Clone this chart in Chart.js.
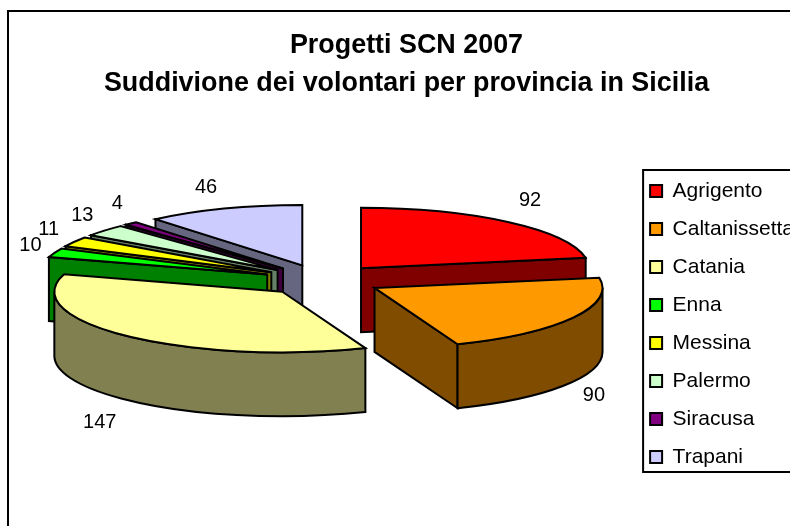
<!DOCTYPE html>
<html><head><meta charset="utf-8">
<style>html,body{margin:0;padding:0;background:#fff;overflow:hidden}canvas{display:block}</style>
<script src="https://cdn.jsdelivr.net/npm/chart.js@4/dist/chart.umd.min.js"></script>
</head><body><div style="width:790px;height:526px"><canvas id="c"></canvas></div>
<script>
const categories = ['Agrigento','Caltanissetta','Catania','Enna','Messina','Palermo','Siracusa','Trapani'];
const values = [92,90,147,10,11,13,4,46];
const topColors = ['#FF0000','#FF9900','#FFFF99','#00FF00','#FFFF00','#CCFFCC','#800080','#CCCCFF'];
const wallColors = ['#800000','#804C00','#808050','#008000','#808000','#668066','#400040','#666680'];
const titleLines = ['Progetti SCN 2007','Suddivione dei volontari per provincia in Sicilia'];
const labelNudges = [[9,-17],[3,11],[-14,18],[-5,-5],[-8,-10],[-7,-11],[0,-16],[-11,-16]];

const FONT = '"Liberation Sans", Arial, sans-serif';
const view = {cx:322.7, cy:280.2, k:0.265, depth:64, radius:228, explode:59.5};

const pie3d = {
  id:'pie3d',
  beforeDraw(chart){
    const c = chart.ctx;
    c.save();
    c.fillStyle='#fff';c.fillRect(0,0,chart.width,chart.height);
    c.strokeStyle='#000';c.lineWidth=2;c.beginPath();
    c.moveTo(8,chart.height);c.lineTo(8,11);c.lineTo(chart.width,11);c.stroke();
    c.restore();
  },
  beforeDatasetsDraw(chart){
    const c = chart.ctx, meta = chart.getDatasetMeta(0);
    const {cx,cy,k,depth} = view;
    const slices = meta.data.map((el,i)=>{
      const p = el.getProps(['x','y','startAngle','endAngle','outerRadius']);
      const mid = (p.startAngle+p.endAngle)/2, off = el.options.offset;
      return {i,mid,start:p.startAngle,end:p.endAngle,r:p.outerRadius,
        ax:cx+off*Math.cos(mid), ay:cy+k*off*Math.sin(mid)};
    });
    const paint = (fill)=>{c.fillStyle=fill;c.fill();c.stroke();};
    c.save();
    c.lineWidth=2;c.strokeStyle='#000';c.lineJoin='miter';
    slices.slice().sort((a,b)=>Math.sin(a.mid)-Math.sin(b.mid)).forEach(s=>{
      const pt=(a,d)=>[s.ax+s.r*Math.cos(a), s.ay+k*s.r*Math.sin(a)+d];
      const face=(a)=>{
        const q=pt(a,0);
        c.beginPath();c.moveTo(s.ax,s.ay);c.lineTo(q[0],q[1]);c.lineTo(q[0],q[1]+depth);
        c.lineTo(s.ax,s.ay+depth);c.closePath();paint(wallColors[s.i]);
      };
      if(Math.cos(s.start)<0) face(s.start);
      if(Math.cos(s.end)>0) face(s.end);
      for(const base of [-2*Math.PI,0,2*Math.PI]){
        const a0=Math.max(s.start,base), a1=Math.min(s.end,base+Math.PI);
        if(a1<=a0) continue;
        c.beginPath();
        c.ellipse(s.ax,s.ay,s.r,k*s.r,0,a0,a1);
        c.ellipse(s.ax,s.ay+depth,s.r,k*s.r,0,a1,a0,true);
        c.closePath();paint(wallColors[s.i]);
      }
      c.beginPath();c.moveTo(s.ax,s.ay);
      c.ellipse(s.ax,s.ay,s.r,k*s.r,0,s.start,s.end);
      c.closePath();paint(topColors[s.i]);
    });
    c.fillStyle='#000';c.font='20px '+FONT;c.textAlign='center';c.textBaseline='middle';
    slices.forEach(s=>{
      const D=s.r+80;
      const front=Math.sin(s.mid)>0?depth:0;
      const x=cx+D*Math.cos(s.mid)+labelNudges[s.i][0];
      const y=cy+k*D*Math.sin(s.mid)+front+labelNudges[s.i][1];
      c.fillText(String(values[s.i]),x,y);
    });
    c.restore();
    return false;
  },
  afterDraw(chart){
    const l=chart.legend,c=chart.ctx;
    c.save();c.strokeStyle='#000';c.lineWidth=2;
    c.strokeRect(l.legendHitBoxes[0].left-7,170,chart.width,302);
    c.restore();
  }
};

new Chart(document.getElementById('c'),{
  type:'pie',
  data:{labels:categories,datasets:[{data:values,backgroundColor:topColors,borderColor:'#000',borderWidth:2,offset:view.explode}]},
  plugins:[pie3d],
  options:{
    responsive:true,maintainAspectRatio:false,animation:false,
    radius:view.radius,
    layout:{padding:{left:9,right:-14,top:27,bottom:0}},
    plugins:{
      tooltip:{enabled:false},
      title:{display:true,text:titleLines,color:'#000',font:{family:FONT,size:26.9,weight:'bold',lineHeight:1.41},padding:{top:0,bottom:19}},
      legend:{position:'right',fullSize:false,labels:{color:'#000',font:{family:FONT,size:21},boxWidth:12,boxHeight:12,padding:17}}
    }
  }
});
</script></body></html>
